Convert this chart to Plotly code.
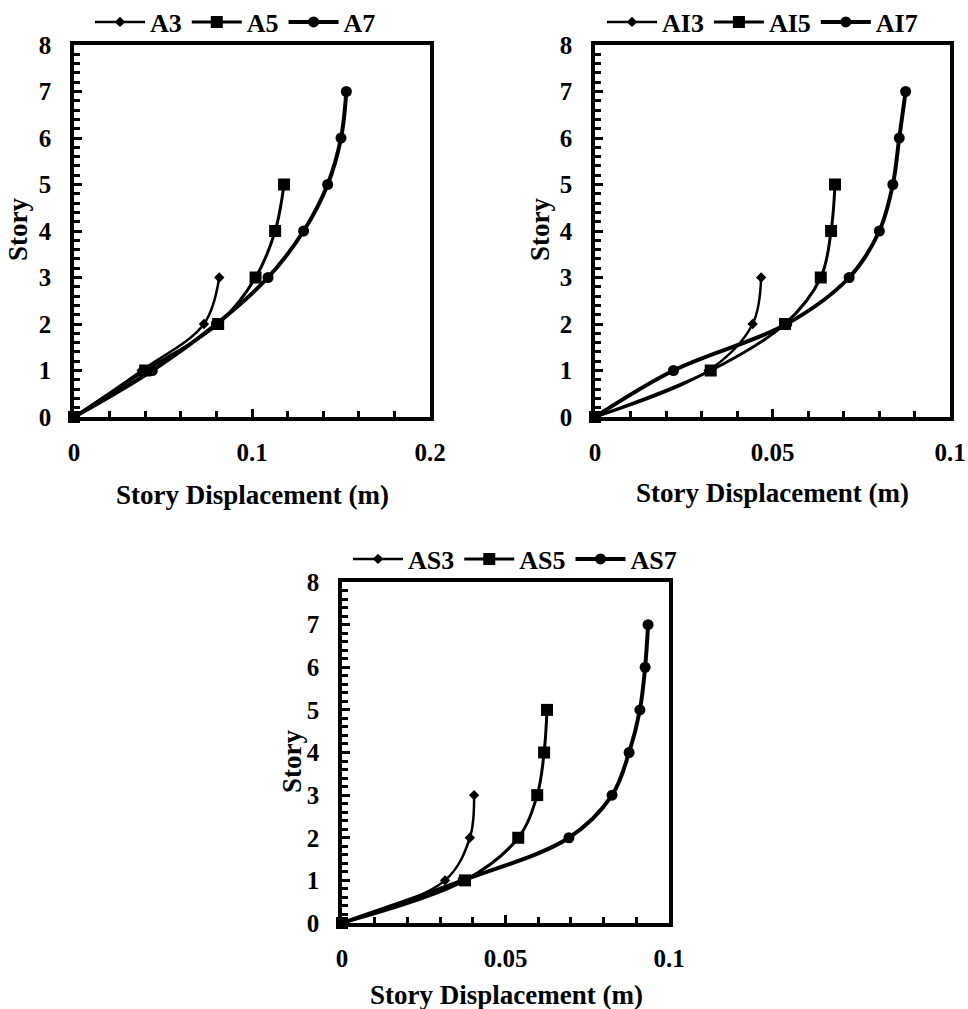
import plotly.graph_objects as go

# ---- data ----
stories_3 = [0, 1, 2, 3]
stories_5 = [0, 1, 2, 3, 4, 5]
stories_7 = [0, 1, 2, 3, 4, 5, 6, 7]

A3 = [0, 0.038, 0.073, 0.0816]
A5 = [0, 0.040, 0.081, 0.102, 0.113, 0.118]
A7 = [0, 0.044, 0.080, 0.109, 0.129, 0.1425, 0.150, 0.153]

AI3 = [0, 0.032, 0.0444, 0.0468]
AI5 = [0, 0.0326, 0.0535, 0.0636, 0.0665, 0.0676]
AI7 = [0, 0.0221, 0.054, 0.0716, 0.0801, 0.0839, 0.0857, 0.0875]

AS3 = [0, 0.0315, 0.0391, 0.0404]
AS5 = [0, 0.0376, 0.0539, 0.0597, 0.0618, 0.0627]
AS7 = [0, 0.037, 0.0694, 0.0826, 0.0878, 0.0911, 0.0927, 0.0936]

panels = [
    dict(names=["A3", "A5", "A7"], xs=[A3, A5, A7], xmax=0.2, dtick=0.1, minor=0.02),
    dict(names=["AI3", "AI5", "AI7"], xs=[AI3, AI5, AI7], xmax=0.1, dtick=0.05, minor=0.01),
    dict(names=["AS3", "AS5", "AS7"], xs=[AS3, AS5, AS7], xmax=0.1, dtick=0.05, minor=0.01),
]
ys = [stories_3, stories_5, stories_7]

FONT = "Liberation Serif, Times New Roman, serif"
W, H = 968, 1009

# plot-area pixel boxes (left, right, top, bottom)
boxes = [(74, 430, 45, 417), (595, 950, 45, 417), (342, 669, 582, 923)]

styles = [
    dict(symbol="diamond", size=8, width=2.5),
    dict(symbol="square", size=12, width=3),
    dict(symbol="circle", size=11, width=4),
]

fig = go.Figure()
legend_names = ["legend", "legend2", "legend3"]
for p, (panel, box) in enumerate(zip(panels, boxes)):
    xa = "x" if p == 0 else f"x{p+1}"
    ya = "y" if p == 0 else f"y{p+1}"
    for k in range(3):
        st = styles[k]
        fig.add_trace(go.Scatter(
            x=panel["xs"][k], y=ys[k], name=panel["names"][k],
            mode="lines+markers", xaxis=xa, yaxis=ya,
            line=dict(color="black", width=st["width"], shape="spline", smoothing=1.0),
            marker=dict(symbol=st["symbol"], size=st["size"], color="black"),
            cliponaxis=False, legend=legend_names[p],
        ))

layout = dict(
    width=W, height=H, margin=dict(l=0, r=0, t=0, b=0, autoexpand=False),
    paper_bgcolor="white", plot_bgcolor="white", showlegend=True,
    font=dict(family=FONT, color="black", size=24, weight="bold"),
)

legend_pos = [(90, 22), (602, 22), (348, 559)]
for p, (panel, box) in enumerate(zip(panels, boxes)):
    l, r, t, b = box
    sx = "xaxis" if p == 0 else f"xaxis{p+1}"
    sy = "yaxis" if p == 0 else f"yaxis{p+1}"
    layout[sx] = dict(
        domain=[l / W, r / W], range=[0, panel["xmax"]], anchor="y" if p == 0 else f"y{p+1}",
        showline=True, linewidth=3.5, linecolor="black", mirror=True,
        showgrid=False, zeroline=False, ticks="inside", ticklen=8, tickwidth=2.5,
        tickcolor="black", dtick=panel["dtick"], tick0=0,
        tickfont=dict(family=FONT, size=25, color="black", weight="bold"),
        ticklabelstandoff=10,
        minor=dict(dtick=panel["minor"], ticks="inside", ticklen=6, tickwidth=2.5,
                   tickcolor="black", showgrid=False),
    )
    layout[sy] = dict(
        domain=[1 - b / H, 1 - t / H], range=[0, 8], anchor="x" if p == 0 else f"x{p+1}",
        showline=True, linewidth=3.5, linecolor="black", mirror=True,
        showgrid=False, zeroline=False, ticks="inside", ticklen=8, tickwidth=2.5,
        tickcolor="black", dtick=1, tick0=0,
        tickfont=dict(family=FONT, size=25, color="black", weight="bold"),
        ticklabelstandoff=14,
        minor=dict(dtick=0.2, ticks="inside", ticklen=6, tickwidth=2.5,
                   tickcolor="black", showgrid=False),
    )
    lx, ly = legend_pos[p]
    layout[legend_names[p]] = dict(
        x=lx / W, y=1 - ly / H, xanchor="left", yanchor="middle",
        orientation="h", bgcolor="rgba(0,0,0,0)", itemwidth=50,
        font=dict(family=FONT, size=26, color="black", weight="bold"),
        traceorder="normal", tracegroupgap=0,
    )

fig.update_layout(**layout)

annots = []
xt = [(252, 495), (772, 493), (506, 995)]
yt = [(18, 230), (540, 230), (292, 762)]
for (x, y) in xt:
    annots.append(dict(text="Story Displacement (m)", x=x / W, y=1 - y / H, xref="paper", yref="paper",
                       showarrow=False, xanchor="center", yanchor="middle",
                       font=dict(family=FONT, size=27, color="black", weight="bold")))
for (x, y) in yt:
    annots.append(dict(text="Story", x=x / W, y=1 - y / H, xref="paper", yref="paper",
                       showarrow=False, xanchor="center", yanchor="middle", textangle=-90,
                       font=dict(family=FONT, size=27, color="black", weight="bold")))
fig.update_layout(annotations=annots)

fig.write_html("out.html")
